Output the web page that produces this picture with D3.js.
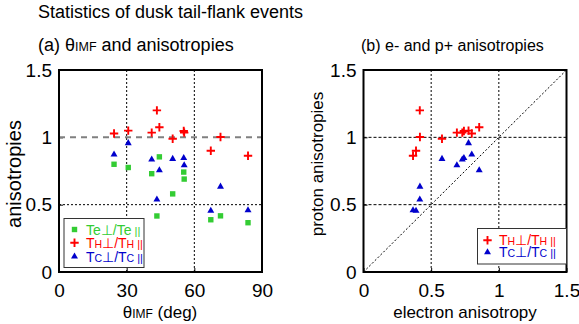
<!DOCTYPE html>
<html><head><meta charset="utf-8">
<script src="https://d3js.org/d3.v7.min.js"></script>
<style>body{margin:0;background:#fff}svg{display:block}text{font-family:"Liberation Sans",Arial,sans-serif}</style>
</head><body>
<script>
// events: IMF clock angle and anisotropies
const theta = [24.4, 30.7, 41.1, 44.5, 43.4, 50.4, 55.3, 55.5, 71.6, 67.3, 83.8];
const te    = [0.80, 0.776, 0.73, 0.855, 0.416, 0.58, 0.742, 0.69, 0.417, 0.388, 0.366];
const th    = [1.028, 1.05, 1.035, 1.075, 1.20, 0.99, 1.047, 1.035, 1.003, 0.90, 0.863];
const tc    = [0.872, 0.957, 0.836, 0.755, 0.538, 0.84, 0.846, 0.793, 0.634, 0.455, 0.458];
const thetaTicks = [0, 30, 60, 90];
const anisoTicks = [0, 0.5, 1, 1.5];

const W = 579, H = 324;
const svg = d3.select("body").append("svg").attr("width", W).attr("height", H);
const GREEN = "#33cc33", RED = "#ff0000", BLUE = "#0000cc";

svg.append("text").attr("x", 38).attr("y", 18).attr("font-size", 18).text("Statistics of dusk tail-flank events");

const t1 = svg.append("text").attr("x", 38).attr("y", 51).attr("font-size", 18);
t1.append("tspan").text("(a) \u03b8");
t1.append("tspan").attr("font-size", 12.5).text("IMF");
t1.append("tspan").text(" and anisotropies");
svg.append("text").attr("x", 361).attr("y", 51).attr("font-size", 16).text("(b) e- and p+ anisotropies");

const yScale = d3.scaleLinear().domain([0, 1.5]).range([272, 70]);
const xa = d3.scaleLinear().domain([0, 90]).range([59, 262]);
const xb = d3.scaleLinear().domain([0, 1.5]).range([363.5, 566.5]);

function crossSym(g, x, y) {
  g.append("path").attr("d", `M${x-4.2},${y}H${x+4.2}M${x},${y-4.2}V${y+4.2}`)
    .attr("stroke", RED).attr("stroke-width", 1.9).attr("fill", "none");
}
const triPath = d3.symbol(d3.symbolTriangle, 21);
function triSym(g, x, y) {
  g.append("path").attr("d", triPath()).attr("transform", `translate(${x},${y})`).attr("fill", BLUE);
}
function sqSym(g, x, y) {
  g.append("rect").attr("x", x-2.7).attr("y", y-2.7).attr("width", 5.4).attr("height", 5.4).attr("fill", GREEN);
}

function panel(x, xTicks, xFmt) {
  const g = svg.append("g");
  const ax = g.append("g").attr("transform", "translate(0,272)")
    .call(d3.axisBottom(x).tickValues(xTicks).tickFormat(xFmt).tickSizeInner(-4).tickSizeOuter(0).tickPadding(12));
  ax.select(".domain").remove();
  ax.selectAll("text").attr("font-size", 19).attr("font-family", "Liberation Sans, Arial, sans-serif");
  const ay = g.append("g").attr("transform", `translate(${x.range()[0]},0)`)
    .call(d3.axisLeft(yScale).tickValues(anisoTicks).tickFormat(d3.format("~g")).tickSizeInner(-4).tickSizeOuter(0).tickPadding(7));
  ay.select(".domain").remove();
  ay.selectAll("text").attr("font-size", 19).attr("font-family", "Liberation Sans, Arial, sans-serif");
  return g;
}

// Panel (a)
const ga = panel(xa, thetaTicks, d3.format("d"));
[30, 60].forEach(v => ga.append("line").attr("x1", xa(v)).attr("x2", xa(v)).attr("y1", 70).attr("y2", 272)
  .attr("stroke", "#000").attr("stroke-dasharray", "2,2").attr("stroke-width", 1));
ga.append("line").attr("x1", 59).attr("x2", 262).attr("y1", yScale(0.5)).attr("y2", yScale(0.5))
  .attr("stroke", "#000").attr("stroke-dasharray", "2,2");
ga.append("line").attr("x1", 59).attr("x2", 262).attr("y1", yScale(1)).attr("y2", yScale(1))
  .attr("stroke", "#808080").attr("stroke-dasharray", "6,5").attr("stroke-width", 2);
theta.forEach((d, i) => sqSym(ga, xa(d), yScale(te[i])));
theta.forEach((d, i) => crossSym(ga, xa(d), yScale(th[i])));
theta.forEach((d, i) => triSym(ga, xa(d), yScale(tc[i])));
ga.append("rect").attr("x", 59).attr("y", 70).attr("width", 203).attr("height", 202).attr("fill", "none").attr("stroke", "#000").attr("stroke-width", 2);

// Panel (b)
const gb = panel(xb, anisoTicks, d3.format("~g"));
[0.5, 1].forEach(v => gb.append("line").attr("x1", xb(v)).attr("x2", xb(v)).attr("y1", 70).attr("y2", 272)
  .attr("stroke", "#000").attr("stroke-dasharray", "2,2"));
[0.5, 1].forEach(v => gb.append("line").attr("x1", 363.5).attr("x2", 566.5).attr("y1", yScale(v)).attr("y2", yScale(v))
  .attr("stroke", "#000").attr("stroke-dasharray", "3,2"));
gb.append("line").attr("x1", xb(0)).attr("y1", yScale(0)).attr("x2", xb(1.5)).attr("y2", yScale(1.5))
  .attr("stroke", "#000").attr("stroke-dasharray", "2,2");
te.forEach((d, i) => crossSym(gb, xb(d), yScale(th[i])));
te.forEach((d, i) => triSym(gb, xb(d), yScale(tc[i])));
gb.append("rect").attr("x", 363.5).attr("y", 70).attr("width", 203).attr("height", 202).attr("fill", "none").attr("stroke", "#000").attr("stroke-width", 2);

// Axis titles
const xt = svg.append("text").attr("x", 160).attr("y", 318).attr("text-anchor", "middle").attr("font-size", 17);
xt.append("tspan").text("\u03b8");
xt.append("tspan").attr("font-size", 12).text("IMF");
xt.append("tspan").text(" (deg)");
svg.append("text").attr("x", 465).attr("y", 318).attr("text-anchor", "middle").attr("font-size", 17).text("electron anisotropy");
svg.append("text").attr("transform", "translate(21,174) rotate(-90)").attr("text-anchor", "middle").attr("font-size", 20).text("anisotropies");
svg.append("text").attr("transform", "translate(323,164) rotate(-90)").attr("text-anchor", "middle").attr("font-size", 17).text("proton anisotropies");

// Legends
function legendLabel(g, x, y, sub, subSize, color) {
  const t = g.append("text").attr("x", x).attr("y", y).attr("fill", color).attr("font-size", 14);
  t.append("tspan").text("T");
  t.append("tspan").attr("font-size", subSize).text(sub);
  t.append("tspan").text("\u22a5/T");
  t.append("tspan").attr("font-size", subSize).text(sub);
  t.append("tspan").attr("font-size", 11).text(" ||");
}
const la = svg.append("g");
la.append("rect").attr("x", 64).attr("y", 218.5).attr("width", 80).attr("height", 49).attr("fill", "#fff").attr("stroke", "#333");
sqSym(la, 74.5, 229.5); legendLabel(la, 86, 234.5, "e", 14, GREEN);
crossSym(la, 74.5, 242.7); legendLabel(la, 86, 247.7, "H", 10.5, RED);
triSym(la, 74.5, 256.5); legendLabel(la, 86, 261.5, "C", 10.5, BLUE);

const lb = svg.append("g");
lb.append("rect").attr("x", 477.5).attr("y", 228.5).attr("width", 89).attr("height", 35.5).attr("fill", "#fff").attr("stroke", "#333");
crossSym(lb, 487.5, 240.3); legendLabel(lb, 499, 245.3, "H", 10.5, RED);
triSym(lb, 487.5, 252.3); legendLabel(lb, 499, 257.3, "C", 10.5, BLUE);
</script>
</body></html>
